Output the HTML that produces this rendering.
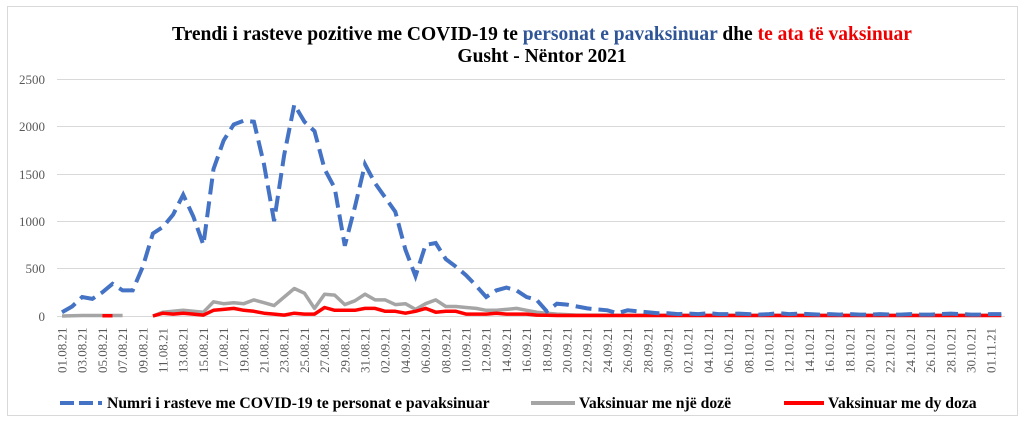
<!DOCTYPE html>
<html><head><meta charset="utf-8"><style>
body{margin:0;background:#fff;width:1024px;height:421px;overflow:hidden}
text{font-family:"Liberation Serif",serif}
</style></head><body>
<svg width="1024" height="421" xmlns="http://www.w3.org/2000/svg">
<rect x="7.5" y="6.5" width="1010" height="409" fill="#fff" stroke="#d9d9d9"/>
<text x="542" y="40" text-anchor="middle" font-size="19.5" font-weight="bold" fill="#000">Trendi i rasteve pozitive me COVID-19 te <tspan fill="#2f5597">personat e pavaksinuar</tspan> dhe <tspan fill="#e00">te ata të vaksinuar</tspan></text>
<text x="542" y="62" text-anchor="middle" font-size="19.5" font-weight="bold" fill="#000">Gusht - Nëntor 2021</text>
<g stroke="#d9d9d9" stroke-width="1">
<line x1="57" x2="1005" y1="79.5" y2="79.5"/><line x1="57" x2="1005" y1="126.5" y2="126.5"/><line x1="57" x2="1005" y1="174.5" y2="174.5"/><line x1="57" x2="1005" y1="221.5" y2="221.5"/><line x1="57" x2="1005" y1="268.5" y2="268.5"/><line x1="57" x2="1005" y1="316.5" y2="316.5"/>
</g>
<g font-family="Liberation Sans" font-size="13" fill="#595959" text-anchor="end">
<text x="45" y="84">2500</text><text x="45" y="131">2000</text><text x="45" y="179">1500</text><text x="45" y="226">1000</text><text x="45" y="273">500</text><text x="45" y="321">0</text>
</g>
<g id="xl" font-size="13" fill="#595959"></g>
<g id="lines"></g>
<g font-size="15.7" font-weight="bold" fill="#000">
<line x1="60" y1="403" x2="102" y2="403" stroke="#4472c4" stroke-width="4" stroke-dasharray="14,5"/>
<text x="107" y="408">Numri i rasteve me COVID-19 te personat e pavaksinuar</text>
<line x1="531" y1="403" x2="575" y2="403" stroke="#a5a5a5" stroke-width="4"/>
<text x="579" y="408">Vaksinuar me një dozë</text>
<line x1="784" y1="403" x2="824" y2="403" stroke="#f00" stroke-width="4"/>
<text x="828" y="408">Vaksinuar me dy doza</text>
</g>
</svg>
<script>
const X=i=>62+10.1*i, Y=v=>316-v*237/2500;
const blue=[40,100,200,180,250,340,270,270,520,870,940,1070,1280,1050,750,1550,1850,2020,2060,2050,1600,1000,1700,2230,2050,1950,1550,1350,740,1150,1600,1400,1250,1100,700,420,750,770,600,520,430,320,200,270,300,270,200,170,50,130,120,100,80,70,60,30,60,50,40,30,30,20,25,20,30,20,20,25,20,15,20,30,20,25,20,15,20,15,20,15,15,20,15,15,20,15,15,20,25,20,15,15,20,20];
const gray=[0,2,5,5,5,5,5,null,null,0,40,50,60,50,40,150,130,140,130,170,140,110,200,290,240,80,230,220,120,160,230,170,170,120,130,70,130,170,100,100,90,80,60,60,70,80,60,40,30,20,15,10,10,10,10,8,8,8,8,8,8,8,8,8,8,8,8,8,8,8,8,8,8,8,8,8,8,8,8,8,8,8,8,8,8,8,8,8,8,8,8,8,8,8];
const red=[null,null,null,null,3,3,null,null,null,0,30,20,30,20,10,60,70,80,60,50,30,20,10,30,20,20,90,60,60,60,80,80,50,50,30,50,80,40,50,50,20,20,20,30,20,20,20,10,8,5,5,5,5,5,5,5,5,5,5,5,5,5,5,5,5,5,5,5,5,5,5,5,5,5,5,5,5,5,5,5,5,5,5,5,5,5,5,5,5,5,5,5,5,5];
function path(d){let s="",pen=false;d.forEach((v,i)=>{if(v==null){pen=false;return;}s+=(pen?"L":"M")+X(i).toFixed(1)+" "+Y(v).toFixed(1);pen=true;});return s;}
let h=`<path d="${path(gray)}" fill="none" stroke="#a5a5a5" stroke-width="3.5" stroke-linejoin="round"/>`;
h+=`<path d="${path(red)}" fill="none" stroke="#f00" stroke-width="3.5" stroke-linejoin="round"/>`;
h+=`<path d="${path(blue)}" fill="none" stroke="#4472c4" stroke-width="4" stroke-dasharray="16,7"/>`;
document.getElementById("lines").innerHTML=h;
const months=[[8,31],[9,30],[10,31],[11,2]];let dates=[];
months.forEach(([m,n])=>{for(let d=1;d<=n;d++)dates.push(String(d).padStart(2,"0")+"."+String(m).padStart(2,"0")+".21");});
let t="";for(let i=0;i<94;i+=2){const x=X(i)+4.5;t+=`<text transform="translate(${x.toFixed(1)},373) rotate(-90)">${dates[i]}</text>`;}
document.getElementById("xl").innerHTML=t;
</script>
</body></html>
